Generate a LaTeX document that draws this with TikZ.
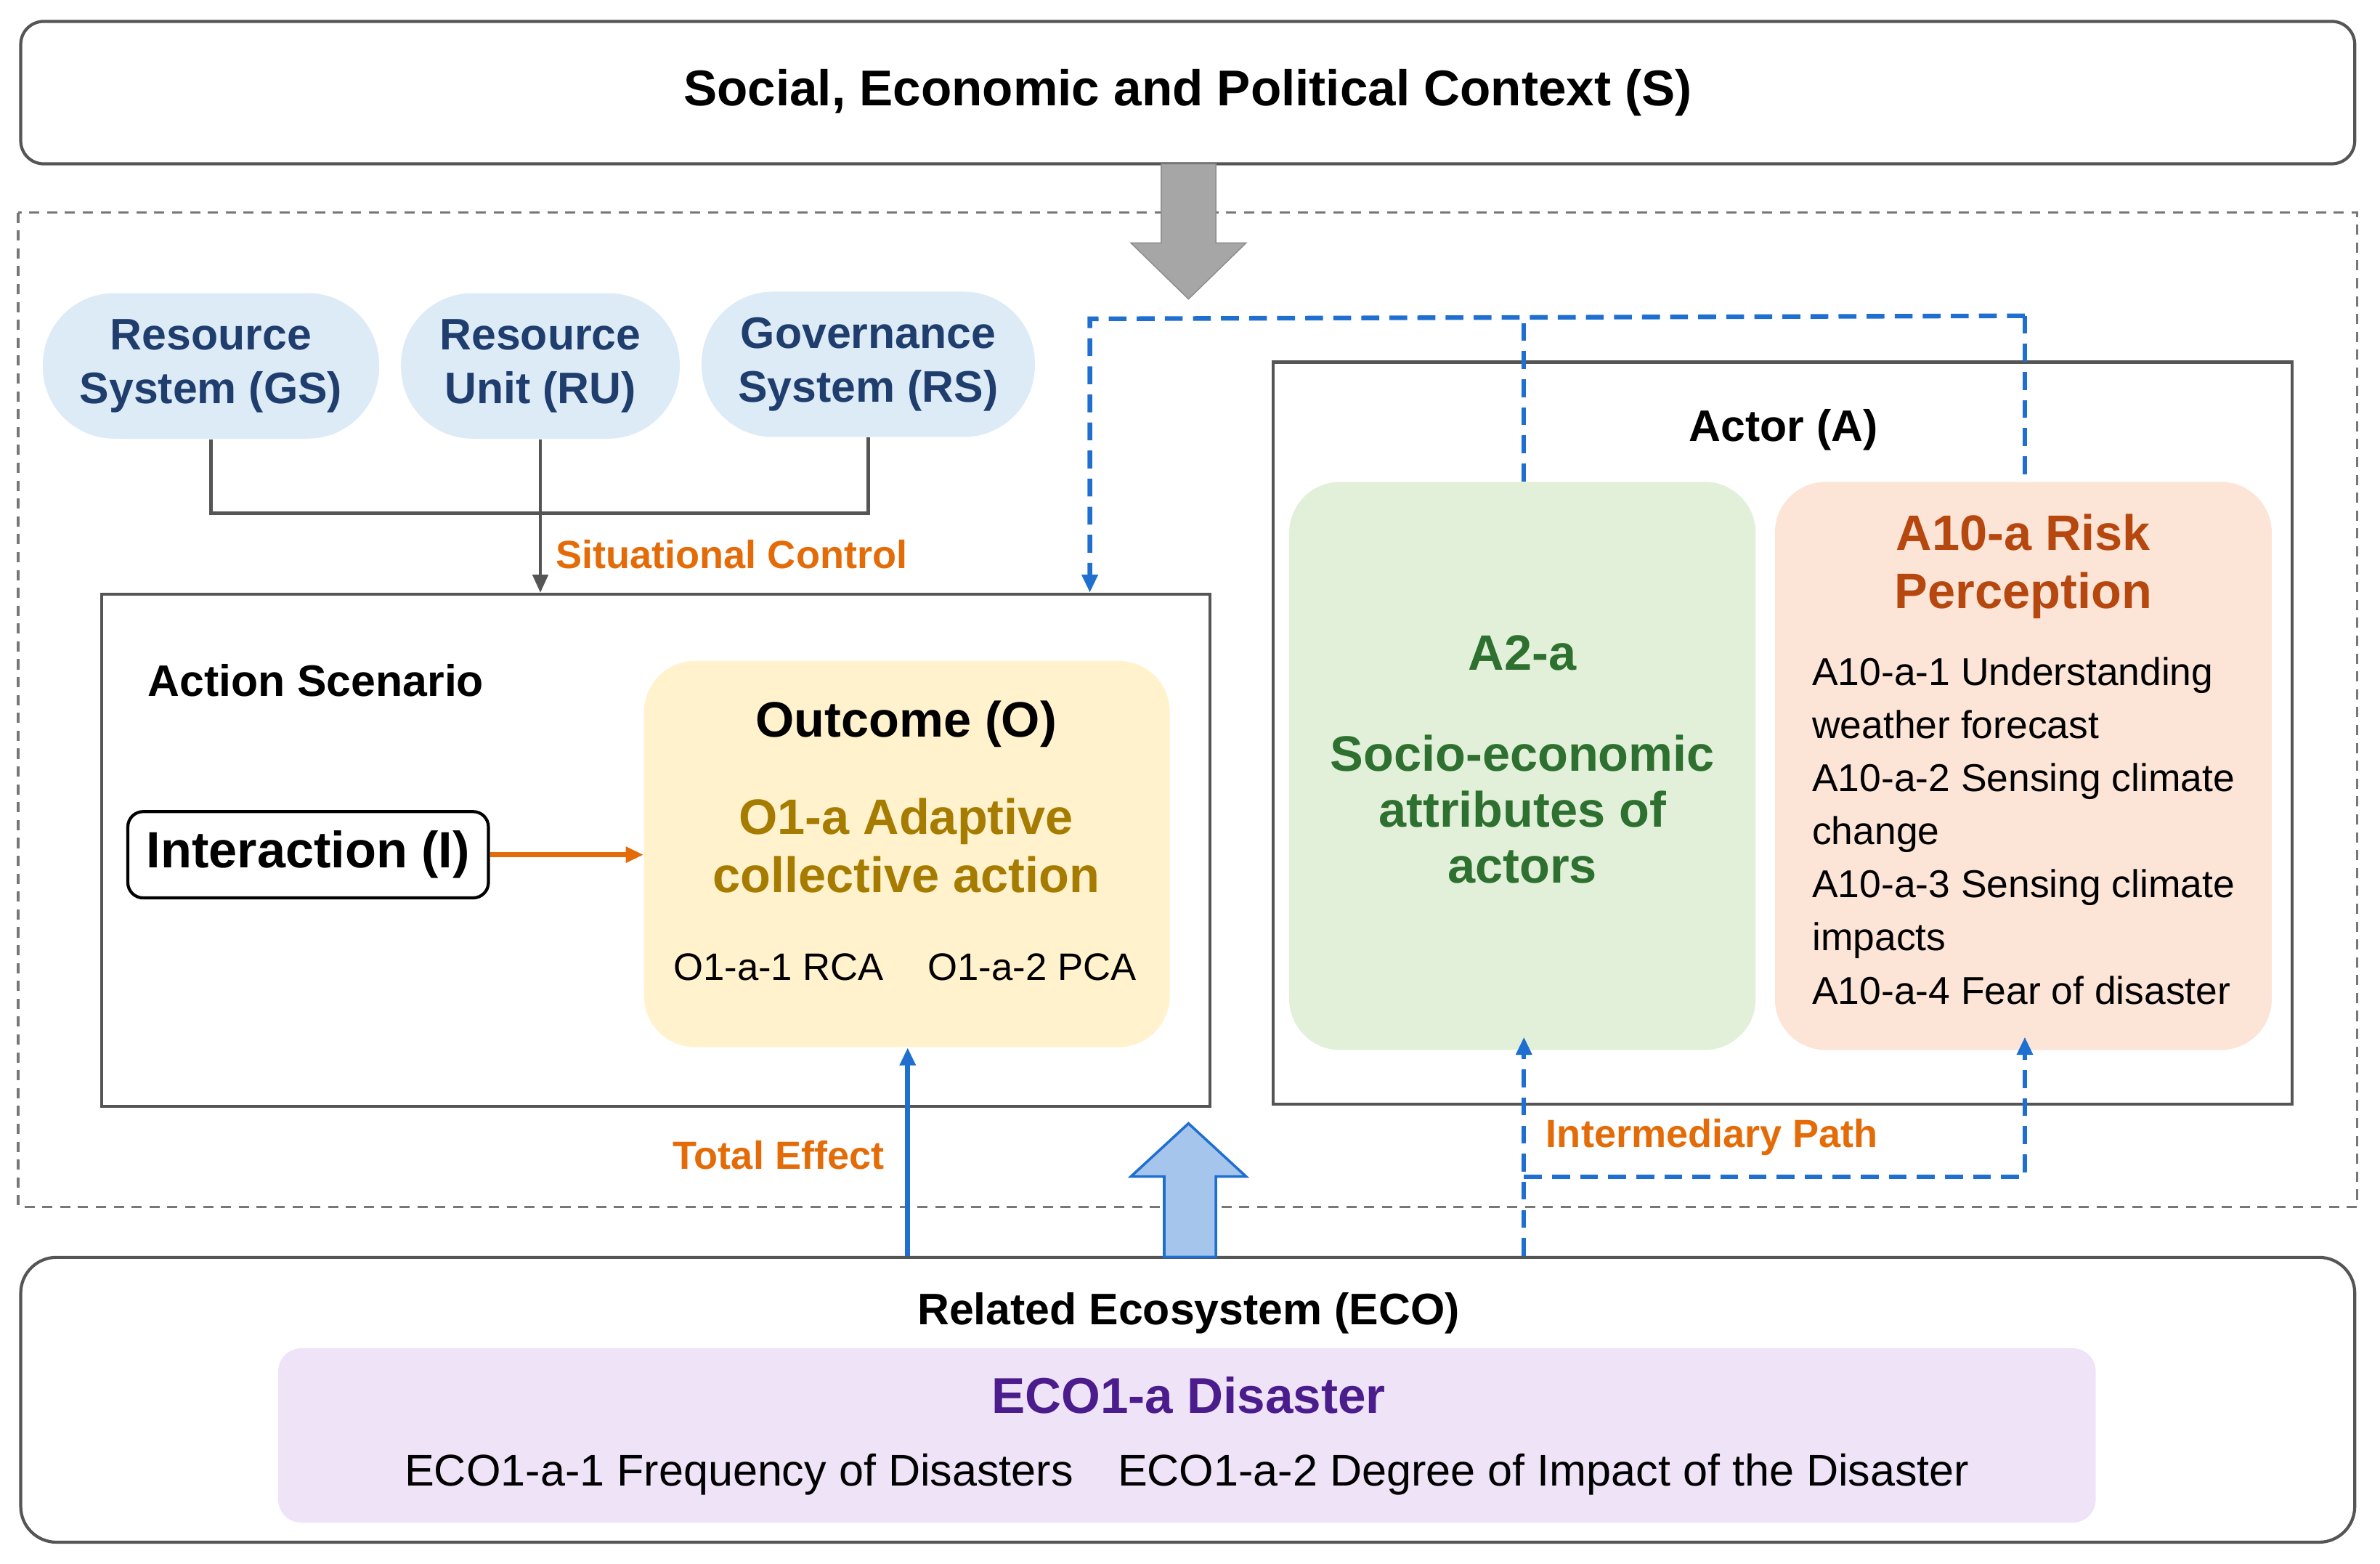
\documentclass[tikz,border=0pt]{standalone}
\usepackage{fontspec}
\setmainfont{Liberation Sans}
\usetikzlibrary{arrows.meta}
\definecolor{dblue}{HTML}{1F3E6E}
\definecolor{pblue}{HTML}{DDEBF7}
\definecolor{lblue}{HTML}{1F6FD0}
\definecolor{orng}{HTML}{E36C09}
\definecolor{gold}{HTML}{A67C00}
\definecolor{ylw}{HTML}{FFF2CC}
\definecolor{grn}{HTML}{2E7030}
\definecolor{lgrn}{HTML}{E2F0D9}
\definecolor{brn}{HTML}{B5470F}
\definecolor{lorg}{HTML}{FCE4D6}
\definecolor{purp}{HTML}{4B1C8C}
\definecolor{lpurp}{HTML}{EFE3F7}
\definecolor{gline}{HTML}{555555}
\newcommand{\fs}[1]{\fontsize{#1pt}{\dimexpr #1pt*122/100\relax}\selectfont}
\tikzset{
 box/.style={draw=gline,line width=1.2pt,inner sep=0pt},
 pill/.style={fill=pblue,rounded corners=28pt,inner sep=0pt,align=center,text=dblue,font=\bfseries\fs{17.3}},
 lab/.style={text=orng,font=\bfseries\fs{15.4}},
 dsh/.style={lblue,line width=1.8pt,dash pattern=on 7pt off 4pt},
 tip/.style={-{Triangle[length=7pt,width=6pt]}}
}
\begin{document}
\begin{tikzpicture}[x=0.0209cm,y=-0.0209cm]
\useasboundingbox (0,0) rectangle (1568,1030);
% top
\node[box,rounded corners=9pt,minimum width=914.6pt,minimum height=55.8pt,font=\bfseries\fs{19.7}] (S) at (782.5,61) {Social, Economic and Political Context (S)};
\draw[gline!80,line width=1pt,dash pattern=on 4pt off 3pt] (12,140) rectangle (1553,795);
% grey arrow
\draw[fill=gray!70,draw=gray!90] (765,108) -- (801,108) -- (801,160) -- (821,160) -- (783,197) -- (745,160) -- (765,160) -- cycle;
% pills
\node[pill,minimum width=131.8pt,minimum height=57pt] (GS) at (139,241) {Resource\\System (GS)};
\node[pill,minimum width=109.2pt,minimum height=57pt] (RU) at (356,241) {Resource\\Unit (RU)};
\node[pill,minimum width=130.6pt,minimum height=57pt] (RS) at (572,240) {Governance\\System (RS)};
% action scenario
\node[box,minimum width=434.4pt,minimum height=200.6pt] (AS) at (432,560) {};
\node[font=\bfseries\fs{17.3}] (ASl) at (208,448) {Action Scenario};
\draw[gline,line width=1.2pt] (GS.south) -- (139,338) -- (572,338) -- (RS.south);
\draw[gline,line width=1.2pt,tip] (RU.south) -- (AS.north -| RU);
\node[lab] (SC) at (482,365) {Situational Control};
\node[draw=black,line width=1.2pt,rounded corners=6pt,minimum width=141.3pt,minimum height=33.8pt,font=\bfseries\fs{20}] (I) at (203,563) {Interaction (I)};
\node[fill=ylw,rounded corners=20pt,minimum width=206pt,minimum height=151.3pt] (O) at (597.5,562.5) {};
\node[font=\bfseries\fs{19.5}] (Ot) at (597,477) {Outcome (O)};
\node[font=\bfseries\fs{19.5},text=gold,align=center] (O1) at (597,557) {O1-a Adaptive\\[-1pt]collective action};
\node[font=\fs{15}] (O11) at (513,637) {O1-a-1 RCA};
\node[font=\fs{15}] (O12) at (680,637) {O1-a-2 PCA};
\draw[orng,line width=2pt,tip] (I.east) -- (O.west |- I);
% actor
\node[box,minimum width=399.4pt,minimum height=290.8pt] (A) at (1174.5,483) {};
\node[font=\bfseries\fs{17.3}] (Al) at (1175,283) {Actor (A)};
\node[fill=lgrn,rounded corners=20pt,minimum width=182.8pt,minimum height=222.6pt] (G) at (1003,504.5) {};
\node[font=\bfseries\fs{19.5},text=grn,align=center] (Gt) at (1003,500) {A2-a\\[16pt]Socio-economic\\[-2pt]attributes of\\[-2pt]actors};
\node[fill=lorg,rounded corners=20pt,minimum width=194.7pt,minimum height=222.6pt] (R) at (1333,504.5) {};
\node[font=\bfseries\fs{19.5},text=brn,align=center] (Rt) at (1333,373) {A10-a Risk\\[-1pt]Perception};
\node[font=\fontsize{15.2pt}{20.8pt}\selectfont,align=left,anchor=north west] (Ri) at (1188,427) {A10-a-1 Understanding\\weather forecast\\A10-a-2 Sensing climate\\change\\A10-a-3 Sensing climate\\impacts\\A10-a-4 Fear of disaster};
% bottom
\node[box,rounded corners=14pt,minimum width=914.6pt,minimum height=111.6pt] (E) at (782.5,922) {};
\node[font=\bfseries\fs{17.3}] (El) at (783,865) {Related Ecosystem (ECO)};
\node[fill=lpurp,rounded corners=9pt,minimum width=712.2pt,minimum height=68.3pt] (P) at (782,945.5) {};
\node[font=\bfseries\fs{19.7},text=purp] (Pt) at (783,919) {ECO1-a Disaster};
\node[font=\fs{17.4}] (Pi) at (782,971) {ECO1-a-1 Frequency of Disasters\quad ECO1-a-2 Degree of Impact of the Disaster};
% blue arrows
\draw[fill=lblue!40,draw=lblue,line width=1pt] (767,828) -- (767,775) -- (745,775) -- (783,740) -- (821,775) -- (801,775) -- (801,828) -- cycle;
\draw[lblue,line width=2pt,tip] (E.north -| 598,0) -- (O.south -| 598,0);
\node[lab] (TE) at (513,761) {Total Effect};
\coordinate (d1) at (718,210);
\coordinate (d2) at (1334,208);
\coordinate (d3) at (1004,210);
\draw[dsh] (d2) -- (1334,317);
\draw[dsh] (1004,317) -- (d3);
\draw[dsh,tip] (d2) -- (d1) -- (AS.north -| d1);
\coordinate (b1) at (1004,775);
\coordinate (b2) at (1334,775);
\draw[dsh,tip] (E.north -| b1) -- (1004,683);
\draw[dsh,tip] (b1) -- (b2) -- (1334,683);
\node[lab] (IP) at (1128,749) {Intermediary Path};
\end{tikzpicture}
\end{document}
